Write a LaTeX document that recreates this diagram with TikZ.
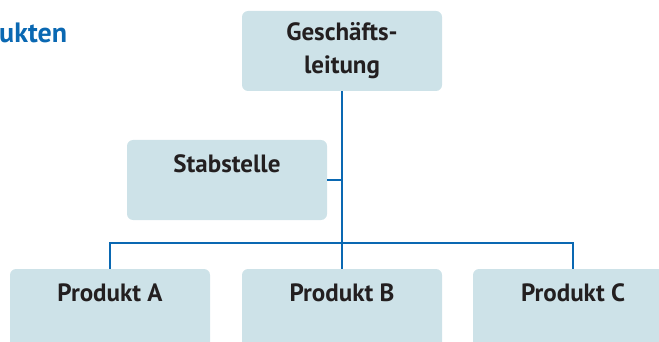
\documentclass[tikz,border=0pt]{standalone}
\usepackage{fontspec}
\setmainfont{PT Sans}
\usepackage{xcolor}
\usepackage{tikz}
\usetikzlibrary{positioning,calc}
\definecolor{boxfill}{RGB}{205,226,232}
\definecolor{linkblue}{RGB}{10,104,178}
\definecolor{textdark}{RGB}{35,31,32}
\tikzset{
  orgbox/.style={fill=boxfill, rounded corners=6pt, minimum width=200pt, minimum height=80pt,
    align=center, text=textdark, font=\bfseries\fontsize{25}{33}\selectfont},
  orglink/.style={draw=linkblue, line width=2.8pt}
}

\begin{document}
\begin{tikzpicture}[x=1pt,y=-1pt]
    \clip (0,0) rectangle (659,342);

    % Title (cut off at the left)
    \node (title) [anchor=base west, inner sep=0pt, text=linkblue, font=\bfseries\fontsize{28}{32}\selectfont] at (-1,43) {ukten};

    % Boxes
    \node (gl) [orgbox] at (342,51) {Geschäfts-\\leitung};
    \node (stab) [orgbox] at (227,180) {Stabstelle\\~};
    \node (pa) [orgbox] at (110,309) {Produkt A\\~};
    \node (pb) [orgbox] at (342,309) {Produkt B\\~};
    \node (pc) [orgbox] at (573,309) {Produkt C\\~};

    % Connections
    \coordinate (bar) at (342,243);
    \draw [orglink] (gl.south) -- (pb.north);
    \draw [orglink] (stab.east) -- (stab.east -| gl.south);
    \draw [orglink] (pa.north) |- (bar) -| (pc.north);
\end{tikzpicture}
\end{document}
